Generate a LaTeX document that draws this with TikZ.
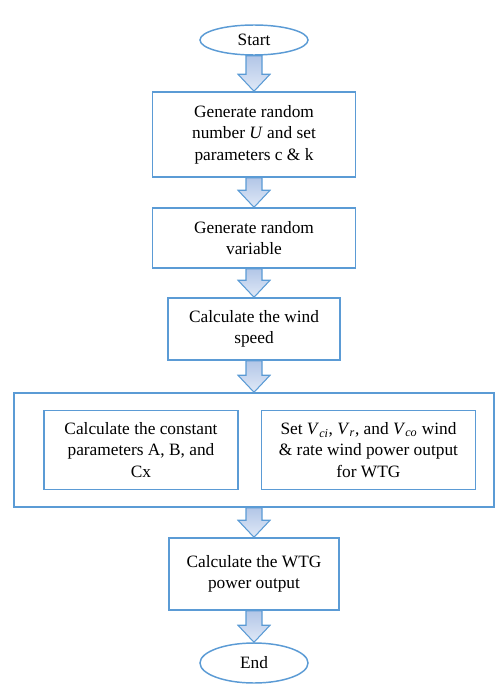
\documentclass[tikz,border=0pt]{standalone}
\usepackage{fontspec}
\setmainfont{Liberation Serif}
\usepackage{xcolor}
\usepackage{tikz}
\usetikzlibrary{shapes.geometric,positioning,calc}

\definecolor{lineblue}{RGB}{91,155,213}
\definecolor{arrowtop}{RGB}{178,198,231}
\definecolor{arrowbot}{RGB}{224,233,247}

\newcommand{\blockarrow}[2]{%
	\draw[blockarrow] let \p1=(#1.south), \p2=(#2.north) in
		(\x1-6pt,\y1) -- (\x1+6pt,\y1) -- (\x1+6pt,\y2+12.75pt) -- (\x1+12pt,\y2+12.75pt)
		-- (\x1,\y2) -- (\x1-12pt,\y2+12.75pt) -- (\x1-6pt,\y2+12.75pt) -- cycle;}
\newcommand{\vsub}[1]{\textit{V}\textsubscript{\textit{#1}}}

\begin{document}
\begin{tikzpicture}[x=0.75pt, y=-0.75pt, font=\fontsize{13}{16}\selectfont]
	\tikzstyle{terminal}=[ellipse, draw=lineblue, line width=1.1pt, fill=white, minimum width=81pt, inner sep=0pt]
	\tikzstyle{process}=[rectangle, draw=lineblue, line width=1.1pt, fill=white, align=center]
	\tikzstyle{blockarrow}=[draw=lineblue, line width=0.8pt, top color=arrowtop, bottom color=arrowbot]

	\useasboundingbox (0,0) rectangle (503,685);

	\node[terminal, minimum height=22.5pt] (start) at (254,40) {Start};
	\node[process, minimum width=152.25pt, minimum height=63.75pt, below=26.65pt of start] (genU)
		{Generate random\\number \textit{U} and set\\parameters c \& k};
	\node[process, minimum width=152.25pt, minimum height=45pt, below=22.15pt of genU] (genVar)
		{Generate random\\variable};
	\node[process, minimum width=129pt, minimum height=46.5pt, below=21.4pt of genVar] (speed)
		{Calculate the wind\\speed};
	\node[process, minimum width=360pt, minimum height=85.5pt, below=23.65pt of speed] (outer) {};
	\node[process, minimum width=145.5pt, minimum height=59.25pt, anchor=west] (calcA) at ([xshift=22.5pt]outer.west)
		{Calculate the constant\\parameters A, B, and\\Cx};
	\node[process, minimum width=160.5pt, minimum height=59.25pt, right=16.5pt of calcA] (setV)
		{Set \vsub{ci}, \vsub{r}, and \vsub{co} wind\\\& rate wind power output\\for WTG};
	\node[process, minimum width=127.5pt, minimum height=54pt, below=22.15pt of outer] (power)
		{Calculate the WTG\\power output};
	\node[terminal, minimum height=30pt, below=23.65pt of power] (end) {End};

	\blockarrow{start}{genU}
	\blockarrow{genU}{genVar}
	\blockarrow{genVar}{speed}
	\blockarrow{speed}{outer}
	\blockarrow{outer}{power}
	\blockarrow{power}{end}

\end{tikzpicture}
\end{document}
